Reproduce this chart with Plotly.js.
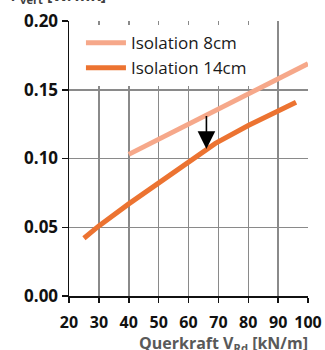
<!DOCTYPE html>
<html>
<head>
<meta charset="utf-8">
<script src="https://cdn.plot.ly/plotly-3.0.1.min.js"></script>
<style>html,body{margin:0;padding:0;background:#fff;}#chart{width:325px;height:350px;}</style>
</head>
<body>
<div id="chart"></div>
<script>
// Data
const seriesNames = ["Isolation 8cm", "Isolation 14cm"];
const x8 = [40, 70, 100];
const y8 = [0.103, 0.136, 0.169];
const x14 = [25, 30, 40, 50, 60, 69, 80, 90, 96];
const y14 = [0.042, 0.051, 0.067, 0.082, 0.097, 0.111, 0.124, 0.135, 0.141];
const xTicks = [20, 30, 40, 50, 60, 70, 80, 90, 100];
const yTicks = [0.00, 0.05, 0.10, 0.15, 0.20];
const yTickText = ["0.00", "0.05", "0.10", "0.15", "0.20"];
const arrowX = 66, arrowFrom = 0.132, arrowTo = 0.107;

const font = "Open Sans, sans-serif";
const traces = [
  {x: x8, y: y8, name: seriesNames[0], mode: "lines", line: {color: "#F6A88A", width: 5}},
  {x: x14, y: y14, name: seriesNames[1], mode: "lines", line: {color: "#EC7331", width: 5}}
];
const layout = {
  width: 325, height: 350,
  margin: {l: 69, r: 17, t: 21, b: 54},
  paper_bgcolor: "#fff", plot_bgcolor: "#fff",
  showlegend: true,
  legend: {x: 0.05, y: 0.985, xanchor: "left", yanchor: "top", bgcolor: "#fff",
           font: {family: font, size: 17, color: "#1a1a1a"}, tracegroupgap: 0, itemwidth: 40},
  xaxis: {range: [20, 100], tickvals: xTicks, ticktext: xTicks.map(String),
          showgrid: true, gridcolor: "#8a8a8a", gridwidth: 1.5,
          showline: true, linecolor: "#111", linewidth: 1.5,
          ticks: "outside", ticklen: 5, tickcolor: "#111", tickwidth: 1.5, ticklabelstandoff: 6,
          tickfont: {family: font, size: 16, color: "#111", weight: "bold"}, zeroline: false},
  yaxis: {range: [0, 0.2], tickvals: yTicks, ticktext: yTickText,
          showgrid: true, gridcolor: "#8a8a8a", gridwidth: 1.5,
          showline: true, linecolor: "#111", linewidth: 1.5,
          ticks: "outside", ticklen: 6, tickcolor: "#111", tickwidth: 1.5,
          tickfont: {family: font, size: 17, color: "#111", weight: "bold"}, zeroline: false},
  annotations: [
    {x: arrowX, y: arrowTo, ax: arrowX, ay: arrowFrom, xref: "x", yref: "y", axref: "x", ayref: "y",
     showarrow: true, arrowhead: 2, arrowsize: 2.2, arrowwidth: 1.6, arrowcolor: "#000", text: ""},
    {xref: "paper", yref: "paper", x: 1.01, y: -0.172, xanchor: "right", yanchor: "middle", showarrow: false,
     text: "<b>Querkraft V<sub>Rd</sub> [kN/m]</b>", font: {family: font, size: 16, color: "#595959"}},
    {xref: "paper", yref: "paper", x: -0.27, y: 1.045, xanchor: "left", yanchor: "bottom", showarrow: false,
     text: "<b>Ψ<sub>vert</sub> [W/mK]</b>", font: {family: font, size: 16, color: "#404040"}}
  ]
};
Plotly.newPlot("chart", traces, layout, {displayModeBar: false, staticPlot: true});
</script>
</body>
</html>
